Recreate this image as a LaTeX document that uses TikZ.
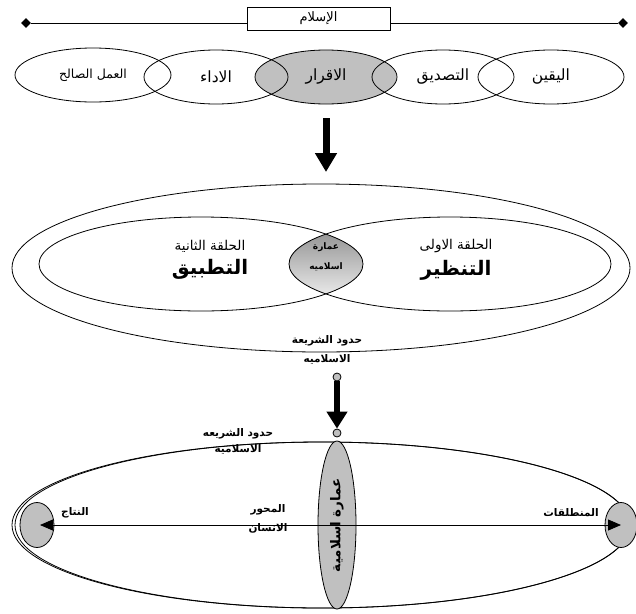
\documentclass[tikz,border=0pt]{standalone}
\usepackage{fontspec}
\newfontfamily\arabicfont[Script=Arabic]{DejaVu Sans}
\TeXXeTstate=1
\usetikzlibrary{shapes.geometric, arrows.meta, positioning}
\definecolor{shade}{RGB}{192,192,192}
\newcommand{\artext}[1]{{\arabicfont\beginR #1\endR}}

\begin{document}
\begin{tikzpicture}[
            x = 1pt, y = -1pt, % pixel units, y going down
            > = Stealth, % arrow head style
            line width = 0.8pt % line style
        ]

        \tikzstyle{ring}=[
        draw = black,
        ellipse,
        inner sep = 0pt
        ]
        \tikzstyle{note}=[inner sep = 1pt, font = \fontsize{10.5}{12}\selectfont\bfseries]
        \tikzstyle{word}=[inner sep = 1pt, font = \fontsize{15.5}{18}\selectfont]
        \tikzstyle{knob}=[circle, draw, fill = shade, inner sep = 0pt, minimum size = 8pt]
        \tikzstyle{bigarrow}=[line width = 7pt, -{Triangle[length = 19pt, width = 21pt]}]

        \useasboundingbox (0,0) rectangle (636,613);

        % top bar
        \node[draw, minimum width = 143pt, minimum height = 23pt, inner sep = 0pt,
              font = \fontsize{13}{15}\selectfont] (islam) at (318.5,18.5) {\artext{الإسلام}};
        \node[diamond, fill, inner sep = 0pt, minimum size = 10pt] (barL) at (26,23) {};
        \node[diamond, fill, inner sep = 0pt, minimum size = 10pt] (barR) at (623,23) {};
        \draw (barL) -- (barL -| islam.west);
        \draw (barR) -- (barR -| islam.east);

        % five stages
        \node[ring, fill = shade, minimum width = 142pt, minimum height = 54pt, word] (iqrar) at (326,77) {\artext{الاقرار}};
        \node[ring, minimum width = 156pt, minimum height = 54pt, font = \fontsize{12.5}{14}\selectfont] (amal) at (93,75) {\artext{العمل الصالح}};
        \node[ring, minimum width = 144pt, minimum height = 54pt, word] (adaa) at (216,77) {\artext{الاداء}};
        \node[ring, minimum width = 142pt, minimum height = 54pt, word] (tasdiq) at (443,77) {\artext{التصديق}};
        \node[ring, minimum width = 146pt, minimum height = 54pt, word] (yaqin) at (551,77) {\artext{اليقين}};

        \draw[bigarrow, shorten <= 14pt, shorten >= 13pt] (iqrar.south) -- (iqrar.south |- 0,185);

        % two rings
        \begin{scope}
            \clip (201,264) ellipse [x radius = 162, y radius = 47];
            \fill[shade] (450,264) ellipse [x radius = 161, y radius = 47];
        \end{scope}
        \node[ring, minimum width = 618pt, minimum height = 168pt] (shariah) at (321,268) {};
        \node[ring, minimum width = 324pt, minimum height = 94pt] (second) at (201,264) {};
        \node[ring, minimum width = 322pt, minimum height = 94pt] (first) at (450,264) {};

        \node[font = \fontsize{13.5}{15}\selectfont] (halqa2) at (210,246) {\artext{الحلقة الثانية}};
        \node[font = \fontsize{20}{22}\selectfont\bfseries] (tatbiq) [below = 0pt of halqa2] {\artext{التطبيق}};
        \node[font = \fontsize{13.5}{15}\selectfont] (halqa1) at (456,246) {\artext{الحلقة الاولى}};
        \node[font = \fontsize{20}{22}\selectfont\bfseries] (tanzir) [below = 0pt of halqa1] {\artext{التنظير}};
        \node[note, font = \fontsize{9}{10}\selectfont\bfseries] (imara) at (326,247) {\artext{عمارة}};
        \node[note, font = \fontsize{9}{10}\selectfont\bfseries] (islamiya) [below = 8pt of imara] {\artext{اسلاميه}};

        \node[note] (hudud) at (327,341) {\artext{حدود الشريعة}};
        \node[note] (hudud2) [below = 5pt of hudud] {\artext{الاسلاميه}};

        % link down
        \node[knob] (knobA) at (337,377) {};
        \node[knob] (knobB) at (337,433) {};
        \draw[line width = 6pt, -{Triangle[length = 17pt, width = 20pt]}] (knobA) -- (knobB);

        % the axis
        \node[ring, minimum width = 618pt, minimum height = 166pt] (life) at (321,525) {};
        \node[ring, minimum width = 615pt, minimum height = 166pt] (life2) at (322.5,525) {};
        \node[ring, fill = shade, minimum width = 34pt, minimum height = 45pt] (result) at (37,525) {};
        \node[ring, fill = shade, minimum width = 32pt, minimum height = 45pt] (start) at (621,525) {};
        \node[ring, fill = shade, minimum width = 38pt, minimum height = 168pt] (imaraV) at (337,525) {};

        \draw[{Triangle[length = 13pt, width = 11pt]}-{Triangle[length = 13pt, width = 11pt]},
              shorten <= 3pt] (result.center) -- (start.center);
        \node[rotate = 90, font = \fontsize{13.5}{15}\selectfont\bfseries] at (imaraV) {\artext{عمارة اسلامية}};

        \node[note] (natij) at (75,513) {\artext{النتاج}};
        \node[note] (mintalaq) at (571,513) {\artext{المنطلقات}};
        \node[note] (mihwar) at (268,510) {\artext{المحور}};
        \node[note] (insan) [below = 5pt of mihwar] {\artext{الانسان}};
        \node[note] (hududB) at (238,434) {\artext{حدود الشريعه}};
        \node[note] (hududB2) [below = 2pt of hududB] {\artext{الاسلاميه}};
    \end{tikzpicture}
\end{document}
